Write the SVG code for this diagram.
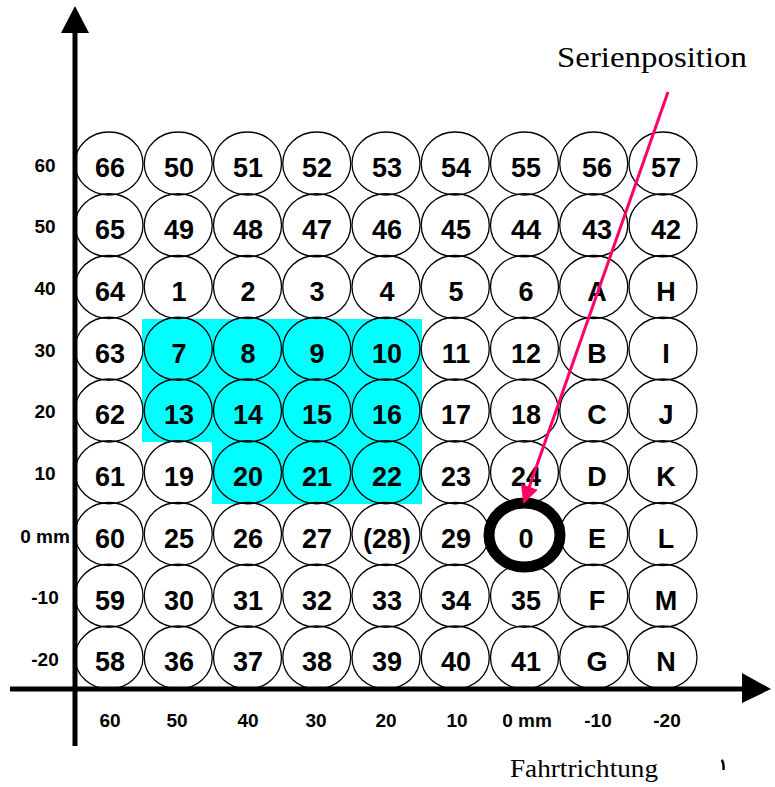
<svg xmlns="http://www.w3.org/2000/svg" width="775" height="787" viewBox="0 0 775 787">
<defs>
<style>
.c{fill:none;stroke:#000;stroke-width:1.3}
.n{font-family:"Liberation Sans",Arial,sans-serif;font-weight:bold;font-size:27px;text-anchor:middle;fill:#000}
.a{font-family:"Liberation Sans",Arial,sans-serif;font-weight:bold;font-size:19px;text-anchor:middle;fill:#000}
.s{font-family:"Liberation Serif","Times New Roman",serif;fill:#000}
</style>
<marker id="ph" viewBox="0 0 10 10" refX="9" refY="5" markerWidth="6" markerHeight="6" markerUnits="strokeWidth" orient="auto">
<path d="M0,0 L10,5 L0,10 z" fill="#FF0066"/>
</marker>
</defs>
<rect width="775" height="787" fill="#fff"/>
<path d="M142,319 H422 V504 H212 V442 H142 Z" fill="#00FFFF"/>
<g id="nodes">
<g id="r1"><ellipse class="c" cx="109" cy="163.5" rx="34" ry="31.5"/><text class="n" x="110" y="177">66</text>
<ellipse class="c" cx="178.25" cy="163.5" rx="34" ry="31.5"/><text class="n" x="179" y="177">50</text>
<ellipse class="c" cx="247.5" cy="163.5" rx="34" ry="31.5"/><text class="n" x="248" y="177">51</text>
<ellipse class="c" cx="316.75" cy="163.5" rx="34" ry="31.5"/><text class="n" x="317" y="177">52</text>
<ellipse class="c" cx="386" cy="163.5" rx="34" ry="31.5"/><text class="n" x="387" y="177">53</text>
<ellipse class="c" cx="455.25" cy="163.5" rx="34" ry="31.5"/><text class="n" x="456" y="177">54</text>
<ellipse class="c" cx="524.5" cy="163.5" rx="34" ry="31.5"/><text class="n" x="526" y="177">55</text>
<ellipse class="c" cx="593.75" cy="163.5" rx="34" ry="31.5"/><text class="n" x="597" y="177">56</text>
<ellipse class="c" cx="663" cy="163.5" rx="34" ry="31.5"/><text class="n" x="666" y="177">57</text></g>
<g id="r2"><ellipse class="c" cx="109" cy="225.25" rx="34" ry="31.5"/><text class="n" x="110" y="239">65</text>
<ellipse class="c" cx="178.25" cy="225.25" rx="34" ry="31.5"/><text class="n" x="179" y="239">49</text>
<ellipse class="c" cx="247.5" cy="225.25" rx="34" ry="31.5"/><text class="n" x="248" y="239">48</text>
<ellipse class="c" cx="316.75" cy="225.25" rx="34" ry="31.5"/><text class="n" x="317" y="239">47</text>
<ellipse class="c" cx="386" cy="225.25" rx="34" ry="31.5"/><text class="n" x="387" y="239">46</text>
<ellipse class="c" cx="455.25" cy="225.25" rx="34" ry="31.5"/><text class="n" x="456" y="239">45</text>
<ellipse class="c" cx="524.5" cy="225.25" rx="34" ry="31.5"/><text class="n" x="526" y="239">44</text>
<ellipse class="c" cx="593.75" cy="225.25" rx="34" ry="31.5"/><text class="n" x="597" y="239">43</text>
<ellipse class="c" cx="663" cy="225.25" rx="34" ry="31.5"/><text class="n" x="666" y="239">42</text></g>
<g id="r3"><ellipse class="c" cx="109" cy="287" rx="34" ry="31.5"/><text class="n" x="110" y="301">64</text>
<ellipse class="c" cx="178.25" cy="287" rx="34" ry="31.5"/><text class="n" x="179" y="301">1</text>
<ellipse class="c" cx="247.5" cy="287" rx="34" ry="31.5"/><text class="n" x="248" y="301">2</text>
<ellipse class="c" cx="316.75" cy="287" rx="34" ry="31.5"/><text class="n" x="317" y="301">3</text>
<ellipse class="c" cx="386" cy="287" rx="34" ry="31.5"/><text class="n" x="387" y="301">4</text>
<ellipse class="c" cx="455.25" cy="287" rx="34" ry="31.5"/><text class="n" x="456" y="301">5</text>
<ellipse class="c" cx="524.5" cy="287" rx="34" ry="31.5"/><text class="n" x="526" y="301">6</text>
<ellipse class="c" cx="593.75" cy="287" rx="34" ry="31.5"/><text class="n" x="597" y="301">A</text>
<ellipse class="c" cx="663" cy="287" rx="34" ry="31.5"/><text class="n" x="666" y="301">H</text></g>
<g id="r4"><ellipse class="c" cx="109" cy="348.75" rx="34" ry="31.5"/><text class="n" x="110" y="363">63</text>
<ellipse class="c" cx="178.25" cy="348.75" rx="34" ry="31.5"/><text class="n" x="179" y="363">7</text>
<ellipse class="c" cx="247.5" cy="348.75" rx="34" ry="31.5"/><text class="n" x="248" y="363">8</text>
<ellipse class="c" cx="316.75" cy="348.75" rx="34" ry="31.5"/><text class="n" x="317" y="363">9</text>
<ellipse class="c" cx="386" cy="348.75" rx="34" ry="31.5"/><text class="n" x="387" y="363">10</text>
<ellipse class="c" cx="455.25" cy="348.75" rx="34" ry="31.5"/><text class="n" x="456" y="363">11</text>
<ellipse class="c" cx="524.5" cy="348.75" rx="34" ry="31.5"/><text class="n" x="526" y="363">12</text>
<ellipse class="c" cx="593.75" cy="348.75" rx="34" ry="31.5"/><text class="n" x="597" y="363">B</text>
<ellipse class="c" cx="663" cy="348.75" rx="34" ry="31.5"/><text class="n" x="666" y="363">I</text></g>
<g id="r5"><ellipse class="c" cx="109" cy="410.5" rx="34" ry="31.5"/><text class="n" x="110" y="424">62</text>
<ellipse class="c" cx="178.25" cy="410.5" rx="34" ry="31.5"/><text class="n" x="179" y="424">13</text>
<ellipse class="c" cx="247.5" cy="410.5" rx="34" ry="31.5"/><text class="n" x="248" y="424">14</text>
<ellipse class="c" cx="316.75" cy="410.5" rx="34" ry="31.5"/><text class="n" x="317" y="424">15</text>
<ellipse class="c" cx="386" cy="410.5" rx="34" ry="31.5"/><text class="n" x="387" y="424">16</text>
<ellipse class="c" cx="455.25" cy="410.5" rx="34" ry="31.5"/><text class="n" x="456" y="424">17</text>
<ellipse class="c" cx="524.5" cy="410.5" rx="34" ry="31.5"/><text class="n" x="526" y="424">18</text>
<ellipse class="c" cx="593.75" cy="410.5" rx="34" ry="31.5"/><text class="n" x="597" y="424">C</text>
<ellipse class="c" cx="663" cy="410.5" rx="34" ry="31.5"/><text class="n" x="666" y="424">J</text></g>
<g id="r6"><ellipse class="c" cx="109" cy="472.25" rx="34" ry="31.5"/><text class="n" x="110" y="486">61</text>
<ellipse class="c" cx="178.25" cy="472.25" rx="34" ry="31.5"/><text class="n" x="179" y="486">19</text>
<ellipse class="c" cx="247.5" cy="472.25" rx="34" ry="31.5"/><text class="n" x="248" y="486">20</text>
<ellipse class="c" cx="316.75" cy="472.25" rx="34" ry="31.5"/><text class="n" x="317" y="486">21</text>
<ellipse class="c" cx="386" cy="472.25" rx="34" ry="31.5"/><text class="n" x="387" y="486">22</text>
<ellipse class="c" cx="455.25" cy="472.25" rx="34" ry="31.5"/><text class="n" x="456" y="486">23</text>
<ellipse class="c" cx="524.5" cy="472.25" rx="34" ry="31.5"/><text class="n" x="526" y="486">24</text>
<ellipse class="c" cx="593.75" cy="472.25" rx="34" ry="31.5"/><text class="n" x="597" y="486">D</text>
<ellipse class="c" cx="663" cy="472.25" rx="34" ry="31.5"/><text class="n" x="666" y="486">K</text></g>
<g id="r7"><ellipse class="c" cx="109" cy="534" rx="34" ry="31.5"/><text class="n" x="110" y="548">60</text>
<ellipse class="c" cx="178.25" cy="534" rx="34" ry="31.5"/><text class="n" x="179" y="548">25</text>
<ellipse class="c" cx="247.5" cy="534" rx="34" ry="31.5"/><text class="n" x="248" y="548">26</text>
<ellipse class="c" cx="316.75" cy="534" rx="34" ry="31.5"/><text class="n" x="317" y="548">27</text>
<ellipse class="c" cx="386" cy="534" rx="34" ry="31.5"/><text class="n" x="387" y="548">(28)</text>
<ellipse class="c" cx="455.25" cy="534" rx="34" ry="31.5"/><text class="n" x="456" y="548">29</text>
<ellipse cx="524.5" cy="535" rx="35.5" ry="32" fill="none" stroke="#000" stroke-width="11"/><text class="n" x="526" y="548">0</text>
<ellipse class="c" cx="593.75" cy="534" rx="34" ry="31.5"/><text class="n" x="597" y="548">E</text>
<ellipse class="c" cx="663" cy="534" rx="34" ry="31.5"/><text class="n" x="666" y="548">L</text></g>
<g id="r8"><ellipse class="c" cx="109" cy="595.75" rx="34" ry="31.5"/><text class="n" x="110" y="610">59</text>
<ellipse class="c" cx="178.25" cy="595.75" rx="34" ry="31.5"/><text class="n" x="179" y="610">30</text>
<ellipse class="c" cx="247.5" cy="595.75" rx="34" ry="31.5"/><text class="n" x="248" y="610">31</text>
<ellipse class="c" cx="316.75" cy="595.75" rx="34" ry="31.5"/><text class="n" x="317" y="610">32</text>
<ellipse class="c" cx="386" cy="595.75" rx="34" ry="31.5"/><text class="n" x="387" y="610">33</text>
<ellipse class="c" cx="455.25" cy="595.75" rx="34" ry="31.5"/><text class="n" x="456" y="610">34</text>
<ellipse class="c" cx="524.5" cy="595.75" rx="34" ry="31.5"/><text class="n" x="526" y="610">35</text>
<ellipse class="c" cx="593.75" cy="595.75" rx="34" ry="31.5"/><text class="n" x="597" y="610">F</text>
<ellipse class="c" cx="663" cy="595.75" rx="34" ry="31.5"/><text class="n" x="666" y="610">M</text></g>
<g id="r9"><ellipse class="c" cx="109" cy="657.5" rx="34" ry="31.5"/><text class="n" x="110" y="671">58</text>
<ellipse class="c" cx="178.25" cy="657.5" rx="34" ry="31.5"/><text class="n" x="179" y="671">36</text>
<ellipse class="c" cx="247.5" cy="657.5" rx="34" ry="31.5"/><text class="n" x="248" y="671">37</text>
<ellipse class="c" cx="316.75" cy="657.5" rx="34" ry="31.5"/><text class="n" x="317" y="671">38</text>
<ellipse class="c" cx="386" cy="657.5" rx="34" ry="31.5"/><text class="n" x="387" y="671">39</text>
<ellipse class="c" cx="455.25" cy="657.5" rx="34" ry="31.5"/><text class="n" x="456" y="671">40</text>
<ellipse class="c" cx="524.5" cy="657.5" rx="34" ry="31.5"/><text class="n" x="526" y="671">41</text>
<ellipse class="c" cx="593.75" cy="657.5" rx="34" ry="31.5"/><text class="n" x="597" y="671">G</text>
<ellipse class="c" cx="663" cy="657.5" rx="34" ry="31.5"/><text class="n" x="666" y="671">N</text></g>
</g>
<g id="axes">
<line x1="75" y1="30" x2="75" y2="746" stroke="#000" stroke-width="5"/>
<path d="M75,6 L89,33 L61,33 Z" fill="#000"/>
<line x1="10" y1="689" x2="745" y2="689" stroke="#000" stroke-width="5"/>
<path d="M771,689 L742,673 L742,703 Z" fill="#000"/>
</g>
<g id="ylabels">
<text class="a" x="45" y="172">60</text>
<text class="a" x="45" y="233">50</text>
<text class="a" x="45" y="295">40</text>
<text class="a" x="45" y="357">30</text>
<text class="a" x="45" y="418">20</text>
<text class="a" x="45" y="480">10</text>
<text class="a" x="45" y="543">0 mm</text>
<text class="a" x="45" y="604">-10</text>
<text class="a" x="45" y="666">-20</text>
</g>
<g id="xlabels">
<text class="a" x="110" y="727">60</text>
<text class="a" x="177" y="727">50</text>
<text class="a" x="248" y="727">40</text>
<text class="a" x="316" y="727">30</text>
<text class="a" x="386" y="727">20</text>
<text class="a" x="457" y="727">10</text>
<text class="a" x="527" y="727">0 mm</text>
<text class="a" x="598" y="727">-10</text>
<text class="a" x="667" y="727">-20</text>
</g>
<text class="s" x="557" y="67" font-size="30" textLength="190" lengthAdjust="spacingAndGlyphs">Serienposition</text>
<text class="s" x="510" y="777" font-size="26" textLength="148" lengthAdjust="spacingAndGlyphs">Fahrtrichtung</text>
<path d="M721.5,760 Q724,762 723.5,770" fill="none" stroke="#000" stroke-width="2.5"/>
<g id="connectors">
<line x1="668" y1="92" x2="524" y2="502" stroke="#FF0066" stroke-width="3" marker-end="url(#ph)"/>
</g>
</svg>
